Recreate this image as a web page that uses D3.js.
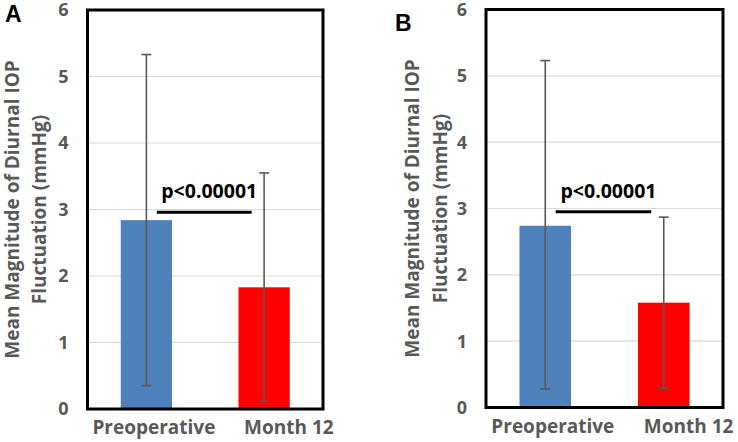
<!DOCTYPE html>
<html>
<head>
<meta charset="utf-8">
<script src="https://cdn.jsdelivr.net/npm/d3@7"></script>
<style>
  html, body { margin: 0; padding: 0; background: #fff; }
  svg { display: block; }
</style>
</head>
<body>
<svg id="chart" width="738" height="442"></svg>
<script>
// ---- Data ----
const categories = ["Preoperative", "Month 12"];
const panelLetters = ["A", "B"];
const meansA = [2.84, 1.83];
const errLowA = [0.35, 0.11];
const errHighA = [5.33, 3.55];
const meansB = [2.74, 1.58];
const errLowB = [0.28, 0.29];
const errHighB = [5.23, 2.87];
const sigLevels = [2.96, 2.95];
const pLabel = "p<0.00001";
const yTicks = [0, 1, 2, 3, 4, 5, 6];
const yTitleLines = ["Mean Magnitude of Diurnal IOP", "Fluctuation (mmHg)"];
const barColors = ["#4f81bd", "#ff0000"];

// ---- Layout ----
const svg = d3.select("#chart");
const panels = [
  { letter: panelLetters[0], means: meansA, lo: errLowA, hi: errHighA, sig: sigLevels[0],
    left: 87.5, top: 10, w: 235.5, h: 399, letterX: 5, letterY: 22, titleX: [18.5, 46] },
  { letter: panelLetters[1], means: meansB, lo: errLowB, hi: errHighB, sig: sigLevels[1],
    left: 486, top: 9.5, w: 237, h: 398, letterX: 395, letterY: 31, titleX: [419, 447] }
];

const gray = "#595959";
const fontUI = "'Open Sans', sans-serif";

panels.forEach(p => {
  const g = svg.append("g").attr("transform", `translate(${p.left},${p.top})`);
  const y = d3.scaleLinear().domain([0, 6]).range([p.h, 0]);
  const x = d3.scaleBand().domain(categories).range([0, p.w])
    .paddingInner(0.565).paddingOuter(0.2825);
  const xl = d3.scalePoint().domain(categories).range([p.w * 0.282, p.w * 0.855]);

  // gridlines
  g.append("g").selectAll("line").data(yTicks.filter(t => t > 0 && t < 6)).join("line")
    .attr("x1", 0).attr("x2", p.w)
    .attr("y1", d => y(d)).attr("y2", d => y(d))
    .attr("stroke", "#d9d9d9").attr("stroke-width", 1.2);

  // bars
  g.append("g").selectAll("rect").data(categories).join("rect")
    .attr("x", d => x(d)).attr("width", x.bandwidth())
    .attr("y", (d, i) => y(p.means[i]))
    .attr("height", (d, i) => y(0) - y(p.means[i]))
    .attr("fill", (d, i) => barColors[i]);

  // error bars
  const eb = g.append("g").attr("stroke", gray).attr("stroke-width", 1.6);
  categories.forEach((c, i) => {
    const cx = x(c) + x.bandwidth() / 2;
    eb.append("line").attr("x1", cx).attr("x2", cx).attr("y1", y(p.lo[i])).attr("y2", y(p.hi[i]));
    eb.append("line").attr("x1", cx - 5).attr("x2", cx + 5).attr("y1", y(p.lo[i])).attr("y2", y(p.lo[i]));
    eb.append("line").attr("x1", cx - 5).attr("x2", cx + 5).attr("y1", y(p.hi[i])).attr("y2", y(p.hi[i]));
  });

  // significance line + label
  const sx0 = x(categories[0]) + x.bandwidth() / 2 + 10.5;
  const sx1 = x(categories[1]) + x.bandwidth() / 2 - 12.5;
  g.append("line").attr("x1", sx0).attr("x2", sx1)
    .attr("y1", y(p.sig)).attr("y2", y(p.sig))
    .attr("stroke", "#000").attr("stroke-width", 3);
  g.append("text").attr("x", (sx0 + sx1) / 2 + 5).attr("y", y(p.sig) - 14)
    .attr("text-anchor", "middle").attr("font-family", fontUI).attr("font-weight", "bold")
    .attr("font-size", 19.5).attr("fill", "#000").text(pLabel);

  // frame
  g.append("rect").attr("x", 0).attr("y", 0).attr("width", p.w).attr("height", p.h)
    .attr("fill", "none").attr("stroke", "#000").attr("stroke-width", 3);

  // y tick labels
  g.append("g").selectAll("text").data(yTicks).join("text")
    .attr("x", -19).attr("y", d => y(d)).attr("dy", "0.36em")
    .attr("text-anchor", "end").attr("font-family", fontUI).attr("font-weight", "bold")
    .attr("font-size", 18).attr("fill", gray).text(d => d);

  // x labels
  g.append("g").selectAll("text").data(categories).join("text")
    .attr("x", d => xl(d)).attr("y", p.h + 25)
    .attr("text-anchor", "middle").attr("font-family", fontUI).attr("font-weight", "bold")
    .attr("font-size", 19).attr("fill", gray).text(d => d);

  // y title
  yTitleLines.forEach((t, i) => {
    svg.append("text")
      .attr("transform", `translate(${p.titleX[i]},${p.top + p.h / 2}) rotate(-90)`)
      .attr("text-anchor", "middle").attr("font-family", fontUI).attr("font-weight", "bold")
      .attr("font-size", 19).attr("fill", gray).text(t);
  });

  // panel letter
  svg.append("text").attr("x", p.letterX).attr("y", p.letterY)
    .attr("font-family", "'Liberation Sans', Arial, sans-serif").attr("font-weight", "bold")
    .attr("font-size", 23).attr("fill", "#000").text(p.letter);
});
</script>
</body>
</html>
